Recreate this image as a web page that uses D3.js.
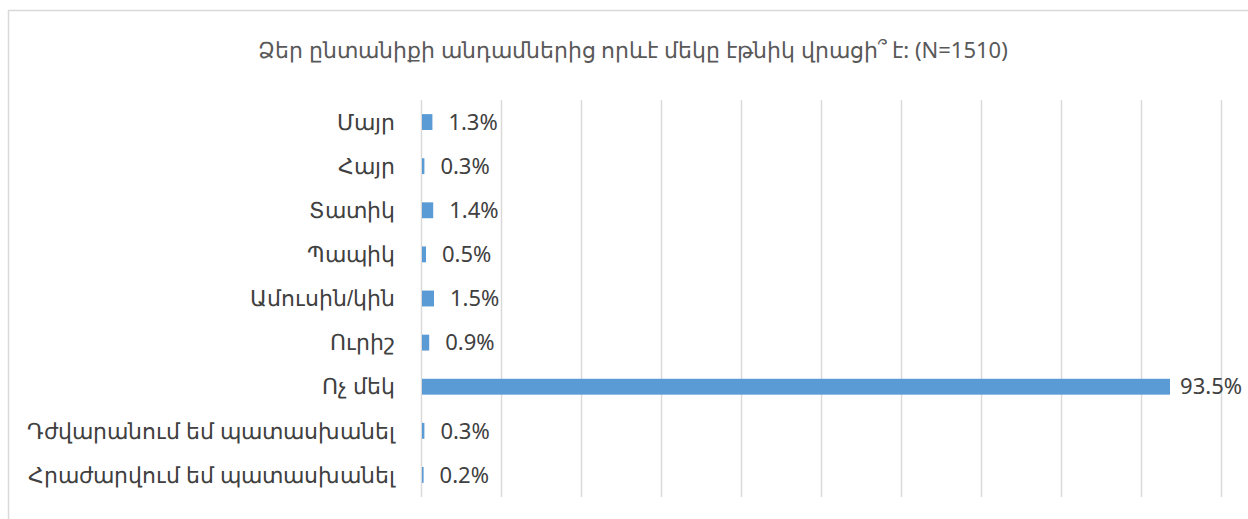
<!DOCTYPE html>
<html>
<head>
<meta charset="utf-8">
<script src="https://cdn.jsdelivr.net/npm/d3@7"></script>
<style>
  body { margin: 0; background: #fff; }
  svg { display: block; font-family: "Noto Sans", sans-serif; }
</style>
</head>
<body>
<svg id="chart"></svg>
<script>
let categories = [
    "Մայր",
    "Հայր",
    "Տատիկ",
    "Պապիկ",
    "Ամուսին/կին",
    "Ուրիշ",
    "Ոչ մեկ",
    "Դժվարանում եմ պատասխանել",
    "Հրաժարվում եմ պատասխանել"
];

let values = [1.3, 0.3, 1.4, 0.5, 1.5, 0.9, 93.5, 0.3, 0.2];

let gridTicks = [0, 10, 20, 30, 40, 50, 60, 70, 80, 90, 100];

let title = "Ձեր ընտանիքի անդամներից որևէ մեկը էթնիկ վրացի՞ է: (N=1510)";

let width = 1248,
    height = 519,
    margin = {top: 100, right: 27, bottom: 22, left: 421};

let svg = d3.select("#chart")
    .attr("width", width)
    .attr("height", height);

// chart area frame (runs off the right and bottom edges)
svg.append("rect")
    .attr("x", 8.5)
    .attr("y", 10.5)
    .attr("width", width + 20)
    .attr("height", height + 20)
    .attr("fill", "none")
    .attr("stroke", "#d9d9d9")
    .attr("stroke-width", 1.5);

svg.append("text")
    .attr("x", 633)
    .attr("y", 58)
    .attr("text-anchor", "middle")
    .attr("fill", "#595959")
    .style("font-size", "22px")
    .text(title);

let x = d3.scaleLinear()
    .domain([0, 100])
    .range([margin.left, width - margin.right]);

let y = d3.scaleBand()
    .domain(categories)
    .range([margin.top, height - margin.bottom])
    .paddingInner(0.64)
    .paddingOuter(0.32);

// vertical gridlines
let grid = svg.append("g")
    .attr("transform", "translate(0," + (height - margin.bottom) + ")")
    .call(d3.axisBottom(x)
        .tickValues(gridTicks)
        .tickSize(-(height - margin.top - margin.bottom))
        .tickFormat(""));
grid.select(".domain").remove();
grid.selectAll(".tick line")
    .attr("stroke", "#d9d9d9")
    .attr("stroke-width", 1.5);

// category labels
let yAxis = svg.append("g")
    .attr("transform", "translate(" + margin.left + ",0)")
    .call(d3.axisLeft(y).tickSize(0).tickPadding(26));
yAxis.select(".domain").remove();
yAxis.selectAll(".tick text")
    .attr("fill", "#404040")
    .style("font-size", "22px")
    .attr("dy", "0.35em");

let rows = d3.zip(categories, values);

svg.append("g")
    .selectAll("rect")
    .data(rows)
    .enter().append("rect")
    .attr("x", x(0) + 1)
    .attr("y", d => y(d[0]))
    .attr("width", d => x(d[1]) - x(0))
    .attr("height", y.bandwidth())
    .attr("fill", "#5b9bd5");

let labels = svg.append("g")
    .selectAll("text")
    .data(rows)
    .enter().append("text")
    .attr("y", d => y(d[0]) + y.bandwidth() / 2)
    .attr("dy", "0.35em")
    .attr("fill", "#404040")
    .style("font-size", "22px")
    .text(d => d[1].toFixed(1) + "%");

// keep the labels inside the picture
labels.attr("x", function (d) {
    let w = this.getComputedTextLength();
    return Math.min(x(d[1]) + 17, width - 6 - w);
});
</script>
</body>
</html>
